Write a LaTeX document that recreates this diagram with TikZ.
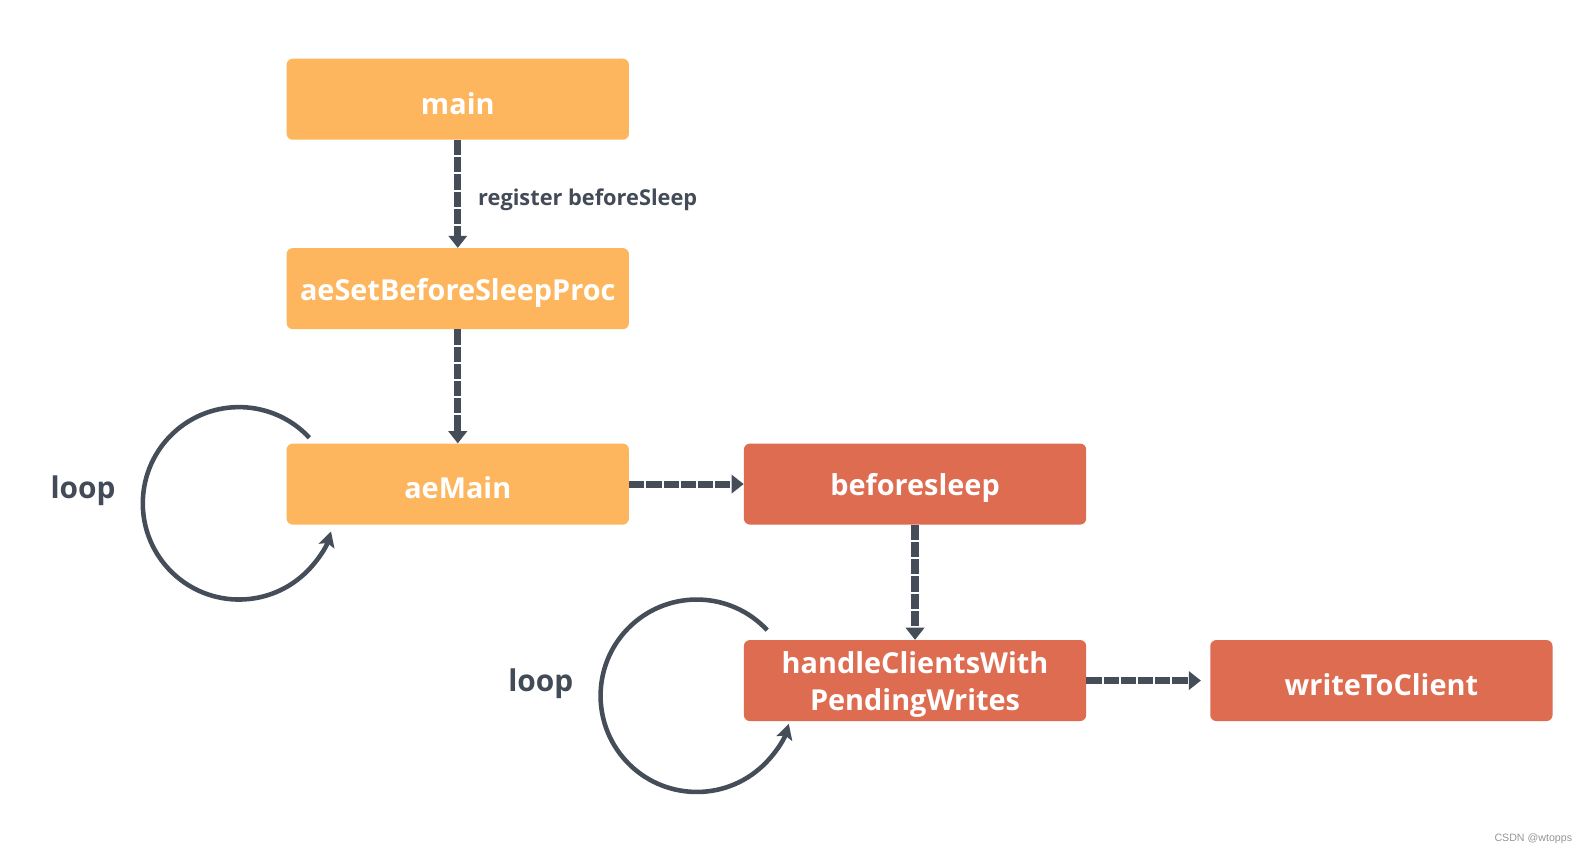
\documentclass[tikz,border=0pt]{standalone}
\usepackage{fontspec}
\setmainfont{Open Sans}
\newfontfamily\wmfont{Liberation Sans}
\usetikzlibrary{arrows.meta}
\definecolor{boxorange}{RGB}{253,182,94}
\definecolor{boxred}{RGB}{222,108,81}
\definecolor{arrowgray}{RGB}{69,77,89}
\definecolor{labelgray}{RGB}{66,75,87}
\tikzset{
  stepbox/.style={rounded corners=6pt, minimum width=338pt, minimum height=80pt, inner sep=0pt},
  boxtext/.style={text=white, font=\fontsize{28.5}{36}\selectfont\bfseries, align=center, yshift=-4pt, inner sep=0pt},
  orangebox/.style={stepbox, fill=boxorange},
  redbox/.style={stepbox, fill=boxred},
  flowarrow/.style={draw=arrowgray, line width=7pt, dash pattern=on 15pt off 2pt,
    -{Triangle[width=18pt,length=12pt]}},
  looparrow/.style={draw=arrowgray, line width=4.5pt, -{Stealth[width=16pt,length=15pt,inset=3pt]}},
  looplabel/.style={text=labelgray, font=\fontsize{29.5}{34}\selectfont\bfseries},
  edgelabel/.style={text=labelgray, font=\fontsize{21.5}{26}\selectfont\bfseries, anchor=west, inner sep=0pt}
}
\begin{document}
\begin{tikzpicture}[x=1pt,y=1pt]
\useasboundingbox (0,0) rectangle (1568,842);
\fill[white] (0,0) rectangle (1568,842);
\node[orangebox, label={[boxtext]center:main}] (main) at (452,744) {};
\node[orangebox, label={[boxtext]center:aeSetBeforeSleepProc}] (setproc) at (452,557) {};
\node[orangebox, label={[boxtext]center:aeMain}] (aemain) at (452,364) {};
\node[redbox, label={[boxtext]center:beforesleep}] (beforesleep) at (903.5,364) {};
\node[redbox, label={[boxtext]center:{handleClientsWith\\PendingWrites}}] (handle) at (903.5,170) {};
\node[redbox, label={[boxtext]center:writeToClient}] (write) at (1364,170) {};

\draw[flowarrow] (main.south) -- (setproc.north);
\node[edgelabel] (reglabel) at (472,645) {register beforeSleep};
\draw[flowarrow] (setproc.south) -- (aemain.north);
\draw[flowarrow] (aemain.east) -- (beforesleep.west);
\draw[flowarrow] (beforesleep.south) -- (handle.north);
\draw[flowarrow, shorten >=9pt] (handle.east) -- (write.west);

\coordinate (c1) at (236,345);
\coordinate (c2) at (688,155);
\draw[looparrow] ([shift={(43:95)}]c1) arc[start angle=43, end angle=343, radius=95];
\draw[looparrow] ([shift={(43:95)}]c2) arc[start angle=43, end angle=343, radius=95];
\node[looplabel] (loop1) at (82,357) {loop};
\node[looplabel] (loop2) at (534,167) {loop};

\node[text={rgb,255:red,150;green,150;blue,150}, font=\wmfont\fontsize{10.5}{12}\selectfont] (wm) at (1514,14) {CSDN @wtopps};
\end{tikzpicture}
\end{document}
